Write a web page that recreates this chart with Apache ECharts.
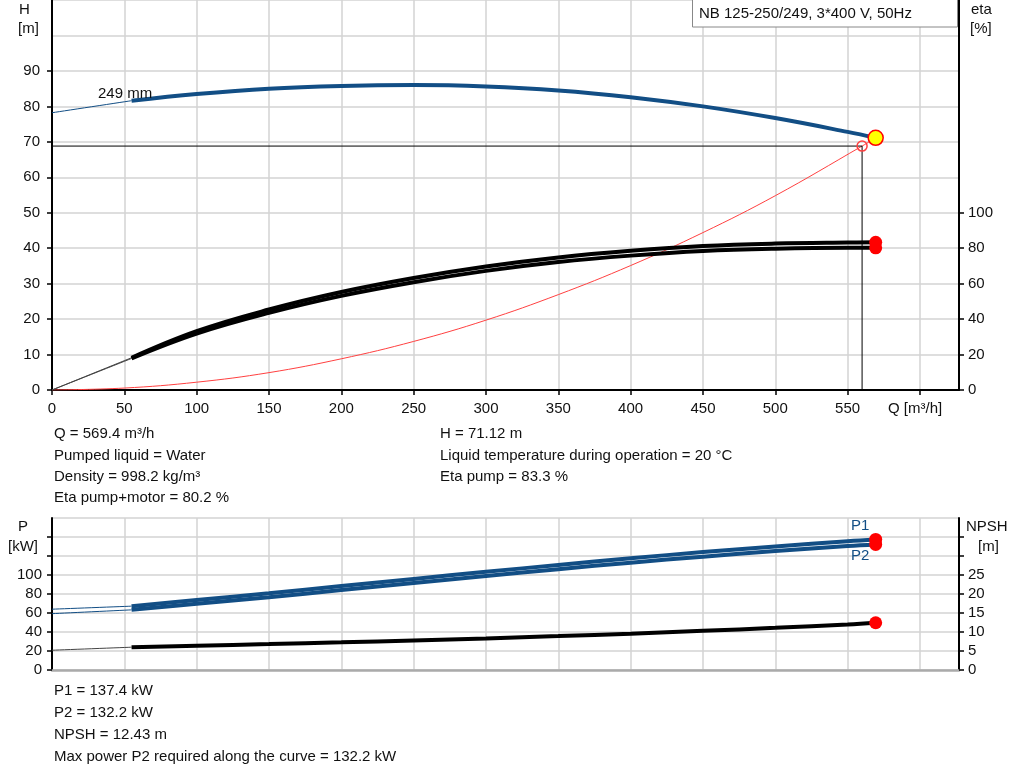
<!DOCTYPE html>
<html>
<head>
<meta charset="utf-8">
<title>NB 125-250/249</title>
<script src="https://cdn.jsdelivr.net/npm/echarts@6/dist/echarts.min.js"></script>
<style>
  html, body { margin: 0; padding: 0; background: #fff; }
  #chart { width: 1024px; height: 781px; }
</style>
</head>
<body>
<div id="chart"></div>
<script>
// flow points of the thick (allowed) part of the curves, m3/h
var qCurve = [55, 100, 150, 200, 250, 300, 350, 400, 450, 500, 550, 569.4];

// thin start part, Q = 0 .. 55
var qStart = [0, 55];

// head H [m]
var headStart = [78.2, 81.6];
var head = [81.6, 83.5, 85.0, 85.75, 86.0, 85.6, 84.5, 82.6, 80.0, 76.7, 72.8, 71.12];

// efficiency [%]
var etaPumpStart = [0, 18.2];
var etaPump = [18.2, 33.2, 45.4, 55.3, 63.2, 69.7, 74.8, 78.5, 81.2, 82.6, 83.2, 83.3];
var etaTotalStart = [0, 17.8];
var etaTotal = [17.8, 31.8, 43.5, 53.1, 60.8, 67.2, 72.2, 75.8, 78.4, 79.7, 80.2, 80.2];

// system curve (red)
var qSystem = [0, 50, 100, 150, 200, 250, 300, 350, 400, 450, 500, 560, 569.4];
var hSystem = [0, 0.55, 2.2, 4.9, 8.8, 13.7, 19.7, 26.9, 35.1, 44.4, 54.8, 68.8, 71.12];

// power [kW]
var p1Start = [64.0, 67.2];
var p1 = [67.2, 73.6, 80.8, 88.3, 95.9, 103.3, 110.6, 117.6, 124.1, 130.1, 135.6, 137.4];
var p2Start = [59.3, 63.3];
var p2 = [63.3, 69.7, 76.7, 84.1, 91.6, 98.9, 106.1, 113.0, 119.3, 125.2, 130.5, 132.2];

// NPSH [m]
var npshStart = [5.2, 6.0];
var npsh = [6.0, 6.4, 6.82, 7.27, 7.77, 8.32, 8.92, 9.57, 10.3, 11.1, 11.97, 12.43];

// duty point and requested point
var dutyQ = 569.4, dutyH = 71.12, dutyEtaPump = 83.3, dutyEtaTotal = 80.2;
var dutyP1 = 137.4, dutyP2 = 132.2, dutyNpsh = 12.43;
var reqQ = 560, reqH = 68.8;

// tick labels
var qLabels = [0, 50, 100, 150, 200, 250, 300, 350, 400, 450, 500, 550];
var qTicks = [0, 50, 100, 150, 200, 250, 300, 350, 400, 450, 500, 550, 600];
var hLabels = [0, 10, 20, 30, 40, 50, 60, 70, 80, 90];
var etaLabels = [0, 20, 40, 60, 80, 100];
var pLabels = [0, 20, 40, 60, 80, 100];
var pTicks = [0, 20, 40, 60, 80, 100, 120, 140];
var npshLabels = [0, 5, 10, 15, 20, 25];
var npshTicks = [0, 5, 10, 15, 20, 25, 30, 35];

var FONT = "'Liberation Sans', Arial, sans-serif";
var BLUE = '#124e85';
var RED = '#ff0000';
var GRIDLINE = '#d3d3d3';

function pairs(xs, ys) {
    var out = [];
    for (var i = 0; i < xs.length; i++) out.push([xs[i], ys[i]]);
    return out;
}

function line(name, data, color, width, xi, yi) {
    return {
        name: name, type: 'line', data: data, smooth: 0.4,
        xAxisIndex: xi, yAxisIndex: yi,
        showSymbol: false, symbol: 'none',
        lineStyle: { color: color, width: width },
        z: 3
    };
}

function dot(name, data, size, color, border, xi, yi) {
    return {
        name: name, type: 'scatter', data: data, symbolSize: size,
        xAxisIndex: xi, yAxisIndex: yi,
        itemStyle: { color: color, borderColor: border, borderWidth: border ? 1.5 : 0, opacity: 1 },
        z: 5
    };
}

function text(x, y, str, color) {
    return { type: 'text', left: x, top: y, z: 10,
             style: { text: str, font: '15px ' + FONT, fill: color || '#111' } };
}

var labelStyle = { color: '#111', fontFamily: FONT, fontSize: 15 };

var xAxisTop = {
    gridIndex: 0, type: 'value', min: 0, max: 627, interval: 50,
    axisLine: { show: true, onZero: false, lineStyle: { color: '#000', width: 2 } },
    axisTick: { show: true, length: 5, customValues: qTicks, lineStyle: { color: '#000', width: 1.5 } },
    axisLabel: Object.assign({ margin: 11, customValues: qLabels }, labelStyle),
    splitLine: { show: true, lineStyle: { color: GRIDLINE, width: 1.5 } }
};
var xAxisBottom = {
    gridIndex: 1, type: 'value', min: 0, max: 627, interval: 50,
    axisLine: { show: true, onZero: false, lineStyle: { color: '#aaa', width: 2.5 } },
    axisTick: { show: false, customValues: qTicks },
    axisLabel: { show: false },
    splitLine: { show: true, lineStyle: { color: GRIDLINE, width: 1.5 } }
};

var option = {
    animation: false,
    backgroundColor: '#fff',
    textStyle: { fontFamily: FONT },
    grid: [
        { left: 52, top: 0, width: 907, height: 390 },
        { left: 52, top: 518, width: 907, height: 152 }
    ],
    xAxis: [xAxisTop, xAxisBottom],
    yAxis: [
        // 0: H
        {
            gridIndex: 0, type: 'value', position: 'left', min: 0, max: 110, interval: 10,
            axisLine: { show: true, lineStyle: { color: '#000', width: 2 } },
            axisTick: { show: true, length: 5, customValues: hLabels, lineStyle: { color: '#000', width: 1.5 } },
            axisLabel: Object.assign({ margin: 12, customValues: hLabels }, labelStyle),
            splitLine: { show: false }
        },
        // 1: eta
        {
            gridIndex: 0, type: 'value', position: 'right', min: 0, max: 220, interval: 20,
            axisLine: { show: true, lineStyle: { color: '#000', width: 2 } },
            axisTick: { show: true, length: 5, customValues: etaLabels, lineStyle: { color: '#000', width: 1.5 } },
            axisLabel: Object.assign({ margin: 9, customValues: etaLabels }, labelStyle),
            splitLine: { show: false }
        },
        // 2: horizontal grid lines of the upper chart
        {
            gridIndex: 0, type: 'value', min: 0, max: 110, interval: 10,
            axisLine: { show: false }, axisTick: { show: false }, axisLabel: { show: false },
            splitLine: { show: true, lineStyle: { color: GRIDLINE, width: 1.5 } }
        },
        // 3: P
        {
            gridIndex: 1, type: 'value', position: 'left', min: 0, max: 160, interval: 20,
            axisLine: { show: true, lineStyle: { color: '#000', width: 2 } },
            axisTick: { show: true, length: 5, customValues: pTicks, lineStyle: { color: '#000', width: 1.5 } },
            axisLabel: Object.assign({ margin: 10, customValues: pLabels }, labelStyle),
            splitLine: { show: false }
        },
        // 4: NPSH
        {
            gridIndex: 1, type: 'value', position: 'right', min: 0, max: 40, interval: 5,
            axisLine: { show: true, lineStyle: { color: '#000', width: 2 } },
            axisTick: { show: true, length: 5, customValues: npshTicks, lineStyle: { color: '#000', width: 1.5 } },
            axisLabel: Object.assign({ margin: 9, customValues: npshLabels }, labelStyle),
            splitLine: { show: false }
        },
        // 5: horizontal grid lines of the lower chart
        {
            gridIndex: 1, type: 'value', min: 0, max: 160, interval: 20,
            axisLine: { show: false }, axisTick: { show: false }, axisLabel: { show: false },
            splitLine: { show: true, lineStyle: { color: GRIDLINE, width: 1.5 } }
        }
    ],
    series: [
        // system curve + requested point lines
        line('system', pairs(qSystem, hSystem), '#ff4040', 1, 0, 0),
        Object.assign(line('reqH', [[0, reqH], [reqQ, reqH]], '#000', 1, 0, 0), { smooth: false }),
        Object.assign(line('reqQ', [[reqQ, reqH], [reqQ, 0]], '#000', 1, 0, 0), { smooth: false }),

        // head
        line('H start', pairs(qStart, headStart), BLUE, 1, 0, 0),
        line('H', pairs(qCurve, head), BLUE, 4, 0, 0),

        // efficiencies
        line('eta pump start', pairs(qStart, etaPumpStart), '#444', 1, 0, 1),
        line('eta total start', pairs(qStart, etaTotalStart), '#444', 1, 0, 1),
        line('eta pump', pairs(qCurve, etaPump), '#000', 4, 0, 1),
        line('eta pump+motor', pairs(qCurve, etaTotal), '#000', 4, 0, 1),

        // power
        line('P1 start', pairs(qStart, p1Start), BLUE, 1, 1, 3),
        line('P2 start', pairs(qStart, p2Start), BLUE, 1, 1, 3),
        line('P1', pairs(qCurve, p1), BLUE, 4, 1, 3),
        line('P2', pairs(qCurve, p2), BLUE, 4, 1, 3),

        // NPSH
        line('NPSH start', pairs(qStart, npshStart), '#444', 1, 1, 4),
        line('NPSH', pairs(qCurve, npsh), '#000', 4, 1, 4),

        // markers
        dot('requested', [[reqQ, reqH]], 10, 'rgba(0,0,0,0)', '#ff4040', 0, 0),
        dot('duty', [[dutyQ, dutyH]], 15, '#ffff00', RED, 0, 0),
        dot('eta dots', [[dutyQ, dutyEtaPump], [dutyQ, dutyEtaTotal]], 13, RED, null, 0, 1),
        dot('P dots', [[dutyQ, dutyP1], [dutyQ, dutyP2]], 13, RED, null, 1, 3),
        dot('NPSH dot', [[dutyQ, dutyNpsh]], 13, RED, null, 1, 4)
    ],
    graphic: [
        text(19, 2, 'H'),
        text(18, 21, '[m]'),
        text(971, 2, 'eta'),
        text(970, 21, '[%]'),
        { type: 'rect', shape: { x: 692.5, y: -1, width: 265, height: 28 },
          style: { fill: '#fff', stroke: '#888', lineWidth: 1 }, z: 10 },
        { type: 'text', left: 699, top: 6, z: 11,
          style: { text: 'NB 125-250/249, 3*400 V, 50Hz', font: '15px ' + FONT, fill: '#111' } },
        text(98, 86, '249 mm'),
        text(888, 401, 'Q [m³/h]'),

        text(54, 426, 'Q = 569.4 m³/h'),
        text(54, 448, 'Pumped liquid = Water'),
        text(54, 469, 'Density = 998.2 kg/m³'),
        text(54, 490, 'Eta pump+motor = 80.2 %'),
        text(440, 426, 'H = 71.12 m'),
        text(440, 448, 'Liquid temperature during operation = 20 °C'),
        text(440, 469, 'Eta pump = 83.3 %'),

        text(18, 519, 'P'),
        text(8, 539, '[kW]'),
        text(966, 519, 'NPSH'),
        text(978, 539, '[m]'),
        text(851, 518, 'P1', BLUE),
        text(851, 548, 'P2', BLUE),

        text(54, 683, 'P1 = 137.4 kW'),
        text(54, 705, 'P2 = 132.2 kW'),
        text(54, 727, 'NPSH = 12.43 m'),
        text(54, 749, 'Max power P2 required along the curve = 132.2 kW')
    ]
};

var myChart = echarts.init(document.getElementById('chart'));
myChart.setOption(option);
</script>
</body>
</html>
